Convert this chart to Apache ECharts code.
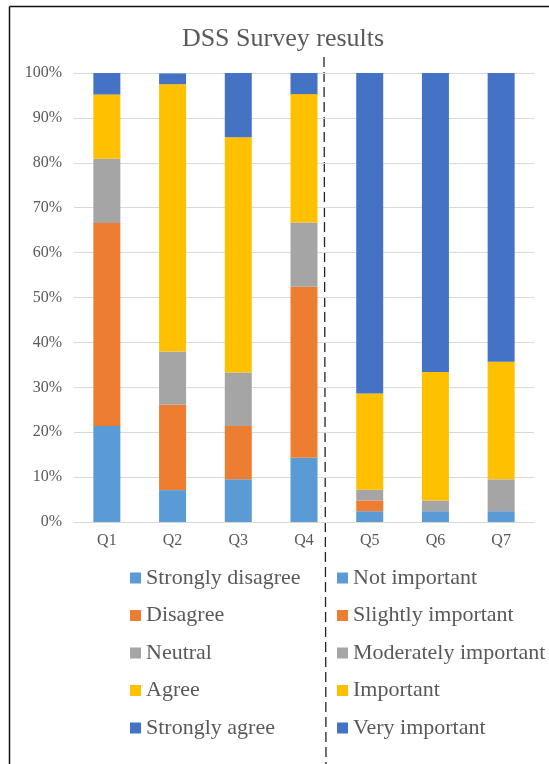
<!DOCTYPE html>
<html>
<head>
<meta charset="utf-8">
<script src="https://cdn.jsdelivr.net/npm/echarts@6/dist/echarts.min.js"></script>
<style>
html,body{margin:0;padding:0;background:#fff;}
#chart{width:549px;height:764px;}
</style>
</head>
<body>
<div id="chart"></div>
<script>
var categories = ['Q1', 'Q2', 'Q3', 'Q4', 'Q5', 'Q6', 'Q7'];
var yTicks = [0, 10, 20, 30, 40, 50, 60, 70, 80, 90, 100];

// Agreement scale (Q1-Q4), percent
var agreeNames = ['Strongly disagree', 'Disagree', 'Neutral', 'Agree', 'Strongly agree'];
var stronglyDisagree = [21.4, 7.1, 9.5, 14.3];
var disagree = [45.2, 19.0, 11.9, 38.1];
var neutral = [14.3, 11.9, 11.9, 14.3];
var agree = [14.3, 59.5, 52.4, 28.6];
var stronglyAgree = [4.8, 2.4, 14.3, 4.8];

// Importance scale (Q5-Q7), percent
var importNames = ['Not important', 'Slightly important', 'Moderately important', 'Important', 'Very important'];
var notImportant = [2.4, 2.4, 2.4];
var slightlyImportant = [2.4, 0, 0];
var moderatelyImportant = [2.4, 2.4, 7.1];
var important = [21.4, 28.6, 26.2];
var veryImportant = [71.4, 66.7, 64.3];

var colors = ['#5B9BD5', '#ED7D31', '#A5A5A5', '#FFC000', '#4472C4'];
var FONT = '"Liberation Serif", "Times New Roman", serif';
var TXT = '#595959';

var agreeData = [stronglyDisagree, disagree, neutral, agree, stronglyAgree];
var importData = [notImportant, slightlyImportant, moderatelyImportant, important, veryImportant];

var series = [];
agreeNames.forEach(function (n, i) {
  series.push({
    name: n, type: 'bar', stack: 'total', barWidth: 27,
    itemStyle: { color: colors[i] },
    data: agreeData[i].concat(['-', '-', '-'])
  });
});
importNames.forEach(function (n, i) {
  series.push({
    name: n, type: 'bar', stack: 'total', barWidth: 27,
    itemStyle: { color: colors[i] },
    data: ['-', '-', '-', '-'].concat(importData[i])
  });
});

var legendCommon = {
  orient: 'vertical',
  icon: 'rect',
  itemWidth: 11,
  itemHeight: 11,
  itemGap: 15.5,
  padding: 0,
  top: 567,
  textStyle: { fontFamily: FONT, fontSize: 22, color: TXT, lineHeight: 22 },
  selectedMode: false
};

var chart = echarts.init(document.getElementById('chart'), null, { renderer: 'canvas' });
chart.setOption({
  animation: false,
  color: colors,
  title: {
    text: 'DSS Survey results',
    left: 278, top: 21, textAlign: 'center',
    textStyle: { fontFamily: FONT, fontSize: 26, fontWeight: 'normal', color: TXT }
  },
  legend: [
    Object.assign({}, legendCommon, { left: 130, data: agreeNames }),
    Object.assign({}, legendCommon, { left: 337, data: importNames })
  ],
  grid: { left: 74, right: 15, top: 73, bottom: 242, containLabel: false },
  xAxis: {
    type: 'category',
    data: categories,
    axisLine: { lineStyle: { color: '#D9D9D9', width: 1 } },
    axisTick: { show: false },
    axisLabel: { fontFamily: FONT, fontSize: 16, color: TXT, margin: 11 }
  },
  yAxis: {
    type: 'value',
    min: yTicks[0], max: yTicks[yTicks.length - 1], interval: 10,
    axisLine: { show: false },
    axisTick: { show: false },
    splitLine: { lineStyle: { color: '#D9D9D9', width: 1 } },
    axisLabel: { fontFamily: FONT, fontSize: 16, color: TXT, margin: 12, formatter: '{value}%' }
  },
  graphic: [
    { type: 'line', shape: { x1: 9.5, y1: 6.5, x2: 549, y2: 6.5 }, style: { stroke: '#111', lineWidth: 1.5 } },
    { type: 'line', shape: { x1: 9.5, y1: 6.5, x2: 9.5, y2: 764 }, style: { stroke: '#111', lineWidth: 1.5 } },
    { type: 'line', shape: { x1: 324, y1: 57, x2: 326, y2: 764 }, style: { stroke: '#222', lineWidth: 1.3, lineDash: [10, 5] } }
  ],
  series: series
});
</script>
</body>
</html>
